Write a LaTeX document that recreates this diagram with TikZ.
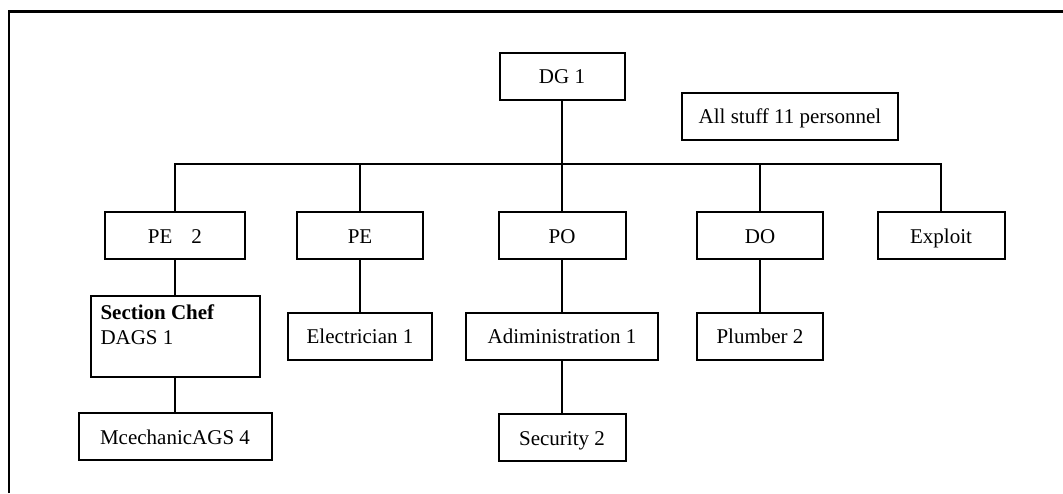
\documentclass[tikz,border=0pt]{standalone}
\usepackage{fontspec}
\setmainfont{Liberation Serif}
\begin{document}
\begin{tikzpicture}[x=1pt,y=-1pt,
  box/.style={draw, line width=2pt, inner sep=0pt, outer sep=0pt,
    minimum height=47pt, text height=19pt, text depth=4pt,
    font=\fontsize{21}{25}\selectfont},
  link/.style={line width=2pt},
  frame/.style={line width=2.5pt}]
\useasboundingbox (0,0) rectangle (1063,493);
% outer frame (top and left sides only)
\draw[frame] (9,493) -- (9,11.5) -- (1063,11.5);

% top level
\node[box, minimum width=125pt] (dg) at (562,76) {DG 1};
\node[box, minimum width=216pt] (all) at (790,116) {All stuff 11 personnel};

% second level
\node[box, minimum width=140pt] (pe2) at (175,235.5) {PE\hspace{19pt}2};
\node[box, minimum width=126pt] (pe) at (360,235.5) {PE};
\node[box, minimum width=127pt] (po) at (562,235.5) {PO};
\node[box, minimum width=126pt] (do) at (760,235.5) {DO};
\node[box, minimum width=127pt] (exploit) at (941,235.5) {Exploit};

% third level
\node[box, text height=, text depth=, inner xsep=10pt, inner ysep=9pt] (chef) at (175,336.5)
  {\parbox[c][63pt][t]{149pt}{\textbf{Section Chef}\\DAGS 1}};
\node[box, minimum width=144pt] (elec) at (360,336) {Electrician 1};
\node[box, minimum width=192pt] (admin) at (562,336) {Adiministration 1};
\node[box, minimum width=126pt] (plumber) at (760,336) {Plumber 2};

% fourth level
\node[box, minimum width=193pt] (mech) at (175,436.5) {McechanicAGS 4};
\node[box, minimum width=127pt] (security) at (562,437.5) {Security 2};

% connectors
\coordinate (bus) at (562,164);
\draw[link] (dg.south) -- (bus);
\draw[link] (pe2.north) |- (bus) -| (exploit.north);
\draw[link] (pe.north) -- (pe.north |- bus);
\draw[link] (po.north) -- (po.north |- bus);
\draw[link] (do.north) -- (do.north |- bus);
\draw[link] (pe2.south) -- (chef.north);
\draw[link] (chef.south) -- (mech.north);
\draw[link] (pe.south) -- (elec.north);
\draw[link] (po.south) -- (admin.north);
\draw[link] (admin.south) -- (security.north);
\draw[link] (do.south) -- (plumber.north);
\end{tikzpicture}
\end{document}
